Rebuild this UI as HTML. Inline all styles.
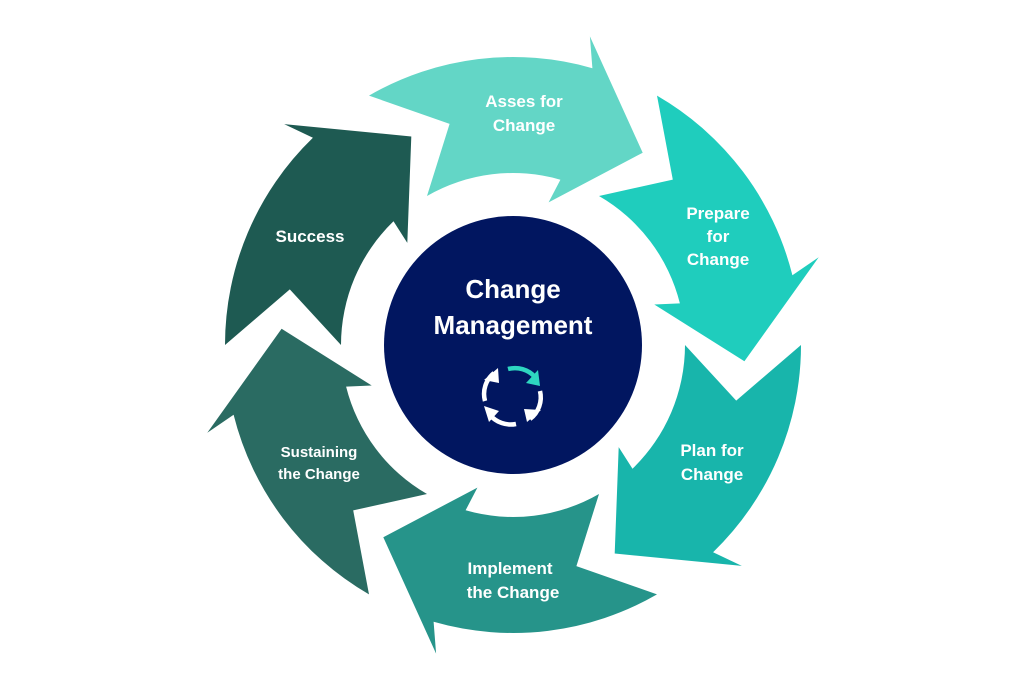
<!DOCTYPE html>
<html><head><meta charset="utf-8"><style>
html,body{margin:0;padding:0;background:#fff;width:1027px;height:685px;overflow:hidden}
svg text{font-family:"Liberation Sans",sans-serif;font-weight:bold;fill:#fff;text-anchor:middle}
</style></head><body>
<svg id="s" width="1027" height="685" viewBox="0 0 1027 685" xmlns="http://www.w3.org/2000/svg">
<g id="arrows"></g>
<circle cx="513" cy="345" r="129" fill="#011660"/>
<text x="513" y="298" font-size="26">Change</text>
<text x="513" y="334" font-size="26">Management</text>
<g fill="none" stroke-width="4.5" stroke-linecap="butt">
<path d="M508 369 A27 27 0 0 1 535 377" stroke="#2ed6c0"/>
<path d="M540 391 A27 27 0 0 1 530 419" stroke="#fff"/>
<path d="M516 424 A27 27 0 0 1 490 415" stroke="#fff"/>
<path d="M485 401 A27 27 0 0 1 494 373" stroke="#fff"/>
</g>
<path d="M538 370 L540 386 L526 383 Z" fill="#2ed6c0"/>
<path d="M541 410 L527 422 L524 409 Z" fill="#fff"/>
<path d="M489 422 L484 406 L499 411 Z" fill="#fff"/>
<path d="M484 380 L498 368 L499 383 Z" fill="#fff"/>
<text x="524" y="107" font-size="17">Asses for</text>
<text x="524" y="131" font-size="17">Change</text>
<text x="718" y="219" font-size="17">Prepare</text>
<text x="718" y="242" font-size="17">for</text>
<text x="718" y="265" font-size="17">Change</text>
<text x="712" y="456" font-size="17">Plan for</text>
<text x="712" y="480" font-size="17">Change</text>
<text x="510" y="574" font-size="17">Implement</text>
<text x="513" y="598" font-size="17">the Change</text>
<text x="319" y="457" font-size="15">Sustaining</text>
<text x="319" y="479" font-size="15">the Change</text>
<text x="310" y="242" font-size="17">Success</text>
</svg>
<script>
var cx=513,cy=345,g=document.getElementById('arrows');
function P(r,a){a=a*Math.PI/180;return (cx+r*Math.sin(a)).toFixed(1)+' '+(cy-r*Math.cos(a)).toFixed(1);}
var cols=['#63d6c6','#1fcdbd','#18b5ab','#26948a','#2a6b62','#1e5a52'];
var Ri=172,Ro=288;
for(var k=0;k<6;k++){
 var tip=34+60*k,a0=tip-64,a1=tip-18;
 var d='M'+P(Ro,a0)+' A'+Ro+' '+Ro+' 0 0 1 '+P(Ro,a1)+' L'+P(Ro+30,a1-2)+' L'+P(232,tip)+' L'+P(Ri-25,a1-2)+' L'+P(Ri,a1)+' A'+Ri+' '+Ri+' 0 0 0 '+P(Ri,a0)+' L'+P(230,a0+14)+' Z';
 var p=document.createElementNS('http://www.w3.org/2000/svg','path');
 p.setAttribute('d',d);p.setAttribute('fill',cols[k]);g.appendChild(p);
}
</script>
</body></html>
